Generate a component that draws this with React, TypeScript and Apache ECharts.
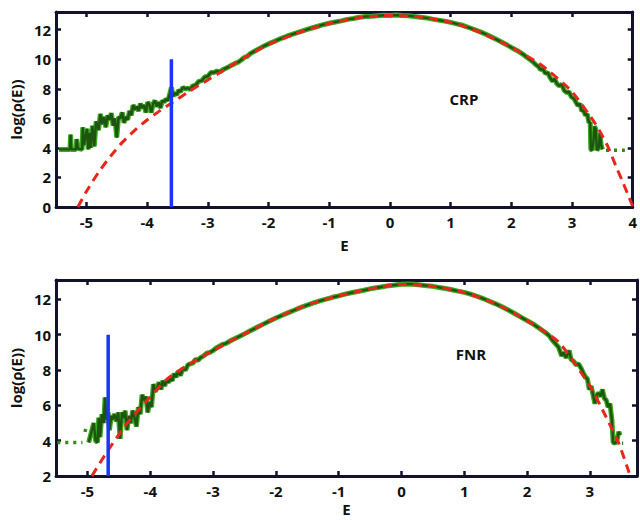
import React, { useEffect, useRef } from "react";
import * as echarts from "echarts";

// ---------- tick values ----------
const crpTicksE = [-5, -4, -3, -2, -1, 0, 1, 2, 3, 4];
const fnrTicksE = [-5, -4, -3, -2, -1, 0, 1, 2, 3];
const crpTicksLog = [0, 2, 4, 6, 8, 10, 12];
const fnrTicksLog = [2, 4, 6, 8, 10, 12];

// ---------- CRP panel ----------
const crpFitE = [-5.14, -5.0, -4.8, -4.6, -4.4, -4.2, -4.0, -3.8, -3.59, -3.3, -3.0, -2.8, -2.4, -2.0, -1.5, -1.0, -0.5, 0, 0.5, 1.0, 1.5, 2.0, 2.5, 3.0, 3.39, 3.59, 3.72, 3.83, 3.94, 4.0];
const crpFitLog = [0, 1.05, 2.35, 3.45, 4.41, 5.21, 5.89, 6.49, 7.05, 7.85, 8.6, 9.1, 10.1, 11.0, 11.8, 12.42, 12.82, 12.97, 12.86, 12.5, 11.8, 10.8, 9.6, 7.8, 5.6, 4.1, 2.8, 1.75, 0.65, 0.05];

const crpData: number[][] = [
  [-5.45, 3.9], [-5.36, 3.9], [-5.3, 3.9], [-5.27, 3.9], [-5.26, 4.9], [-5.25, 3.9], [-5.17, 3.9], [-5.16, 4.6], [-5.14, 3.95],
  [-5.07, 3.9], [-5.06, 5.4], [-5.04, 4.2], [-4.99, 5.3], [-4.97, 3.9], [-4.95, 5.0], [-4.93, 4.0], [-4.9, 5.5], [-4.87, 4.1],
  [-4.84, 5.8], [-4.8, 5.2], [-4.77, 6.3], [-4.74, 5.6], [-4.71, 6.1], [-4.68, 5.4], [-4.65, 6.2], [-4.62, 5.9], [-4.59, 6.35],
  [-4.56, 5.5], [-4.53, 6.0], [-4.5, 4.7], [-4.47, 6.1], [-4.44, 6.0], [-4.41, 6.4], [-4.38, 5.7], [-4.35, 6.1], [-4.32, 5.9],
  [-4.29, 6.5], [-4.26, 6.2], [-4.23, 6.9], [-4.2, 6.6], [-4.17, 6.8], [-4.14, 6.5], [-4.11, 7.0], [-4.08, 6.7], [-4.05, 6.9],
  [-4.02, 6.4], [-3.99, 7.1], [-3.96, 6.9], [-3.93, 6.4], [-3.9, 7.0], [-3.87, 7.2], [-3.84, 6.8], [-3.81, 7.1], [-3.78, 6.7],
  [-3.75, 7.2], [-3.72, 7.1], [-3.69, 7.3], [-3.66, 7.2], [-3.63, 7.6], [-3.6, 8.1], [-3.57, 7.5], [-3.54, 7.7], [-3.51, 7.6],
  [-3.48, 7.9], [-3.45, 7.8], [-3.41, 8.1], [-3.37, 8.0], [-3.33, 8.05], [-3.29, 7.95], [-3.25, 8.2], [-3.2, 8.25], [-3.15, 8.5],
  [-3.1, 8.55], [-3.05, 8.8], [-3.0, 8.85], [-2.95, 9.1], [-2.9, 9.1], [-2.85, 9.2], [-2.8, 9.15], [-2.75, 9.3], [-2.7, 9.4],
  [-2.65, 9.5], [-2.6, 9.62], [-2.55, 9.72], [-2.5, 9.8], [-2.45, 9.95], [-2.4, 10.12], [-2.35, 10.2], [-2.3, 10.38], [-2.2, 10.62],
  [-2.1, 10.84], [-2.0, 11.04], [-1.9, 11.22], [-1.8, 11.4], [-1.7, 11.56], [-1.6, 11.7], [-1.5, 11.84], [-1.4, 11.97], [-1.3, 12.1],
  [-1.2, 12.22], [-1.1, 12.34], [-1.0, 12.44], [-0.9, 12.52], [-0.8, 12.6], [-0.7, 12.7], [-0.6, 12.76], [-0.5, 12.84], [-0.4, 12.9],
  [-0.3, 12.92], [-0.2, 12.95], [-0.1, 12.98], [0, 12.97], [0.1, 12.99], [0.2, 12.96], [0.3, 12.95], [0.4, 12.9], [0.5, 12.85],
  [0.6, 12.8], [0.7, 12.72], [0.8, 12.65], [0.9, 12.58], [1.0, 12.5], [1.1, 12.4], [1.2, 12.3], [1.3, 12.15], [1.4, 12.0],
  [1.5, 11.84], [1.6, 11.66], [1.7, 11.46], [1.8, 11.25], [1.9, 11.04], [2.0, 10.8], [2.1, 10.58], [2.2, 10.32], [2.25, 10.15],
  [2.3, 10.0], [2.35, 9.85], [2.4, 9.65], [2.45, 9.5], [2.48, 9.3], [2.52, 9.35], [2.56, 9.05], [2.6, 9.1], [2.64, 8.75],
  [2.68, 8.5], [2.71, 8.7], [2.75, 8.35], [2.79, 8.2], [2.83, 8.3], [2.87, 7.9], [2.91, 7.75], [2.95, 7.8], [2.99, 7.45],
  [3.03, 7.35], [3.07, 7.05], [3.1, 6.85], [3.13, 7.0], [3.16, 6.5], [3.19, 6.55], [3.22, 6.2], [3.25, 6.3], [3.28, 5.7],
  [3.3, 5.75], [3.31, 3.9], [3.33, 3.85], [3.35, 4.3], [3.37, 5.45], [3.39, 5.3], [3.41, 3.85], [3.44, 4.0], [3.46, 5.0],
  [3.48, 4.2], [3.5, 3.9],
];
const crpFloor: number[][] = [[3.56, 3.85], [3.87, 3.85]];
const crpCutoffE = -3.6;
const crpCutoffLog = [0, 10];

// ---------- FNR panel ----------
const fnrFitE = [-4.93, -4.67, -4.37, -4.05, -3.73, -3.42, -3.0, -2.5, -2.0, -1.5, -1.0, -0.5, 0, 0.5, 1.0, 1.5, 2.0, 2.5, 3.0, 3.25, 3.46, 3.62, 3.645];
const fnrFitLog = [2.0, 3.47, 4.98, 6.29, 7.5, 8.25, 9.1, 10.05, 10.95, 11.7, 12.2, 12.6, 12.85, 12.75, 12.4, 11.75, 10.8, 9.6, 7.1, 5.4, 3.85, 2.24, 2.0];

const fnrData: number[][] = [
  [-4.98, 3.9], [-4.9, 5.0], [-4.87, 4.0], [-4.84, 3.9], [-4.82, 5.3], [-4.8, 4.2], [-4.77, 5.5], [-4.74, 5.0], [-4.72, 6.45],
  [-4.7, 5.2], [-4.67, 5.6], [-4.65, 4.6], [-4.62, 5.4], [-4.6, 5.2], [-4.57, 5.5], [-4.54, 5.1], [-4.51, 5.6], [-4.48, 4.1],
  [-4.45, 5.6], [-4.42, 5.3], [-4.4, 5.7], [-4.37, 4.6], [-4.34, 5.4], [-4.31, 5.0], [-4.28, 5.7], [-4.25, 5.3], [-4.22, 4.8],
  [-4.19, 5.9], [-4.16, 5.5], [-4.13, 6.6], [-4.1, 6.3], [-4.07, 6.5], [-4.04, 5.6], [-4.01, 6.2], [-3.98, 5.9], [-3.95, 7.2],
  [-3.92, 6.8], [-3.89, 7.0], [-3.86, 7.3], [-3.83, 6.9], [-3.8, 7.4], [-3.77, 7.1], [-3.74, 7.4], [-3.71, 7.3], [-3.68, 7.5],
  [-3.65, 7.4], [-3.62, 7.8], [-3.59, 7.6], [-3.56, 7.9], [-3.52, 7.7], [-3.48, 8.1], [-3.44, 8.0], [-3.4, 8.3], [-3.36, 8.35],
  [-3.32, 8.4], [-3.28, 8.6], [-3.24, 8.55], [-3.2, 8.7], [-3.15, 8.8], [-3.1, 8.95], [-3.05, 9.0], [-3.0, 9.1], [-2.95, 9.25],
  [-2.9, 9.35], [-2.85, 9.45], [-2.8, 9.5], [-2.75, 9.6], [-2.7, 9.7], [-2.6, 9.87], [-2.5, 10.05], [-2.4, 10.24], [-2.3, 10.42],
  [-2.2, 10.6], [-2.1, 10.78], [-2.0, 10.95], [-1.9, 11.1], [-1.8, 11.25], [-1.7, 11.4], [-1.6, 11.55], [-1.5, 11.68], [-1.4, 11.8],
  [-1.3, 11.92], [-1.2, 12.02], [-1.1, 12.12], [-1.0, 12.2], [-0.9, 12.3], [-0.8, 12.38], [-0.7, 12.45], [-0.6, 12.52], [-0.5, 12.6],
  [-0.4, 12.66], [-0.3, 12.72], [-0.2, 12.78], [-0.1, 12.82], [0, 12.86], [0.1, 12.88], [0.2, 12.86], [0.3, 12.82], [0.4, 12.78],
  [0.5, 12.74], [0.6, 12.68], [0.7, 12.62], [0.8, 12.55], [0.9, 12.47], [1.0, 12.4], [1.1, 12.3], [1.2, 12.18], [1.3, 12.05],
  [1.4, 11.9], [1.5, 11.75], [1.6, 11.58], [1.7, 11.4], [1.8, 11.2], [1.9, 11.0], [2.0, 10.8], [2.1, 10.6], [2.2, 10.35],
  [2.3, 10.1], [2.35, 9.95], [2.4, 9.7], [2.45, 9.5], [2.5, 9.3], [2.55, 8.8], [2.58, 9.0], [2.62, 8.7], [2.67, 9.1], [2.7, 8.6],
  [2.74, 8.5], [2.78, 8.3], [2.82, 8.35], [2.86, 8.1], [2.9, 7.8], [2.93, 7.6], [2.96, 7.5], [2.99, 6.9], [3.02, 7.1], [3.05, 6.6],
  [3.08, 6.1], [3.11, 6.6], [3.14, 6.7], [3.17, 6.5], [3.2, 6.9], [3.23, 6.4], [3.26, 6.3], [3.29, 5.9], [3.32, 6.1], [3.35, 5.2],
  [3.37, 3.9], [3.4, 3.85], [3.43, 4.0], [3.46, 4.5], [3.48, 4.3],
];
const fnrFloor: number[][] = [[-5.48, 3.9], [-5.08, 3.9]];
const fnrStray: number[][] = [[-5.04, 4.5], [-5.02, 4.75]];
const fnrTail: number[][] = [[3.51, 3.85], [3.53, 3.85]];
const fnrCutoffE = -4.67;
const fnrCutoffLog = [2, 10];

const AXIS = "#12122c";
const FONT = "'Open Sans', 'DejaVu Sans', sans-serif";

function xAxes(grid: number, min: number, max: number, ticks: number[], gap: number) {
  const common = {
    type: "value",
    gridIndex: grid,
    min,
    max,
    splitLine: { show: false },
    axisLine: { show: true, onZero: false, lineStyle: { color: AXIS, width: 3 } },
    axisTick: { show: true, inside: true, length: 5, customValues: ticks, lineStyle: { color: AXIS, width: 2.5 } },
  };
  return [
    {
      ...common,
      position: "bottom",
      name: "E",
      nameLocation: "middle",
      nameGap: gap,
      nameTextStyle: { color: "#111", fontSize: 15, fontWeight: "bold", fontFamily: FONT },
      axisLabel: { customValues: ticks, color: "#111", fontSize: 15, fontWeight: "bold", fontFamily: FONT, margin: 7 },
    },
    { ...common, position: "top", axisLabel: { show: false } },
  ];
}

function yAxes(grid: number, min: number, max: number, ticks: number[]) {
  const common = {
    type: "value",
    gridIndex: grid,
    min,
    max,
    splitLine: { show: false },
    axisLine: { show: true, onZero: false, lineStyle: { color: AXIS, width: 3 } },
    axisTick: { show: true, inside: true, length: 5, customValues: ticks, lineStyle: { color: AXIS, width: 2.5 } },
  };
  return [
    {
      ...common,
      position: "left",
      name: "log(ρ(E))",
      nameLocation: "middle",
      nameGap: 30,
      nameTextStyle: { color: "#111", fontSize: 15, fontWeight: "bold", fontFamily: FONT },
      axisLabel: { customValues: ticks, color: "#111", fontSize: 15, fontWeight: "bold", fontFamily: FONT, margin: 5 },
    },
    { ...common, position: "right", axisLabel: { show: false } },
  ];
}

function panelSeries(xi: number, yi: number, noisy: number[][], fitE: number[], fitLog: number[], cutE: number, cutLog: number[], extras: number[][][]) {
  const s: any[] = [];
  const greenOuter = { color: "#3da822", width: 5 };
  const greenInner = { color: "#1c5410", width: 2.4 };
  s.push({ type: "line", xAxisIndex: xi, yAxisIndex: yi, data: noisy, symbol: "none", lineStyle: greenOuter, z: 2 });
  s.push({ type: "line", xAxisIndex: xi, yAxisIndex: yi, data: noisy, symbol: "none", lineStyle: greenInner, z: 3 });
  extras.forEach((seg) => {
    s.push({ type: "line", xAxisIndex: xi, yAxisIndex: yi, data: seg, symbol: "none", lineStyle: { color: "#2f8a1a", width: 3.5, type: [3, 5] }, z: 2 });
  });
  s.push({
    type: "line",
    xAxisIndex: xi,
    yAxisIndex: yi,
    data: fitE.map((e, i) => [e, fitLog[i]]),
    symbol: "none",
    smooth: 0.2,
    lineStyle: { color: "#e8261c", width: 3, type: [9, 6] },
    z: 4,
  });
  s.push({
    type: "line",
    xAxisIndex: xi,
    yAxisIndex: yi,
    data: cutLog.map((v) => [cutE, v]),
    symbol: "none",
    lineStyle: { color: "#1a35f5", width: 3.5 },
    z: 5,
  });
  return s;
}

export default function App() {
  const ref = useRef<HTMLDivElement>(null);
  useEffect(() => {
    if (!ref.current) return;
    const chart = echarts.init(ref.current, undefined, { renderer: "svg" });
    chart.setOption({
      animation: false,
      backgroundColor: "#ffffff",
      grid: [
        { left: 56, top: 12, width: 583, height: 195 },
        { left: 56, top: 280, width: 581, height: 196 },
      ],
      xAxis: [...xAxes(0, -5.5, 4, crpTicksE, 30), ...xAxes(1, -5.5, 3.75, fnrTicksE, 25)],
      yAxis: [...yAxes(0, 0, 13.2, crpTicksLog), ...yAxes(1, 2, 13.1, fnrTicksLog)],
      series: [
        ...panelSeries(0, 0, crpData, crpFitE, crpFitLog, crpCutoffE, crpCutoffLog, [crpFloor]),
        ...panelSeries(2, 2, fnrData, fnrFitE, fnrFitLog, fnrCutoffE, fnrCutoffLog, [fnrFloor, fnrStray, fnrTail]),
      ],
      graphic: [
        { type: "text", x: 464, y: 99, style: { text: "CRP", font: `bold 15px ${FONT}`, fill: "#111", align: "center", verticalAlign: "middle" } },
        { type: "text", x: 471, y: 354, style: { text: "FNR", font: `bold 15px ${FONT}`, fill: "#111", align: "center", verticalAlign: "middle" } },
      ],
    });
    return () => chart.dispose();
  }, []);
  return <div ref={ref} style={{ position: "fixed", left: 0, top: 0, width: 640, height: 520 }} />;
}
